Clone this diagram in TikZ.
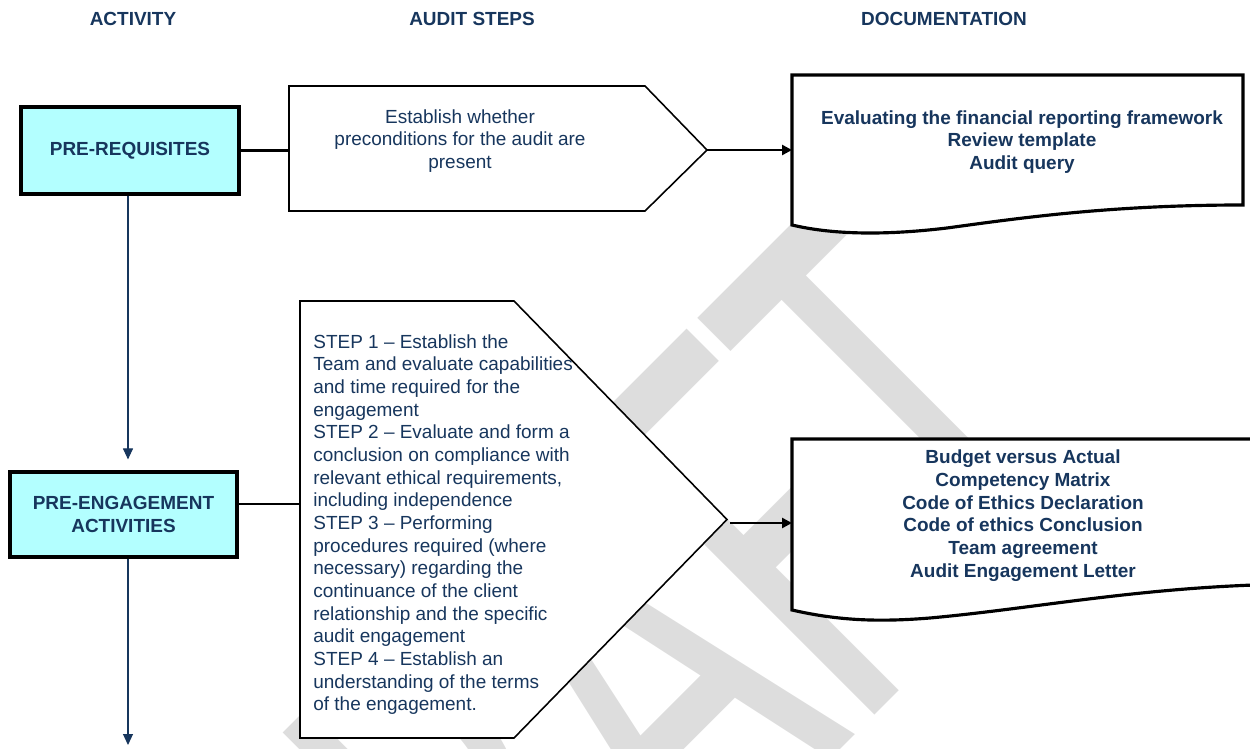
\documentclass[tikz,border=0pt]{standalone}
\usepackage{fontspec}
\setmainfont{Liberation Sans}
\newfontfamily\wmfont{Carlito}
\usetikzlibrary{arrows.meta}

\definecolor{navy}{RGB}{23,54,93}
\definecolor{cyanbox}{RGB}{179,255,255}
\definecolor{wmgray}{RGB}{221,221,221}

\tikzset{
  head/.style={text=navy, font=\bfseries\fontsize{10.8}{12.9}\selectfont},
  activity/.style={draw=black, line width=1.8pt, fill=cyanbox, text=navy, align=center,
    font=\bfseries\fontsize{10.8}{12.9}\selectfont},
  stepline/.style={draw=black, line width=0.9pt, fill=white},
  steptext/.style={text=navy, inner sep=0pt, font=\fontsize{10.8}{12.9}\selectfont},
  docline/.style={draw=black, line width=1.8pt, fill=white},
  doctext/.style={text=navy, inner sep=0pt, align=center,
    font=\bfseries\fontsize{10.8}{12.9}\selectfont},
  link/.style={draw=black, line width=1.7pt},
  feed/.style={draw=black, line width=1.4pt, -{Triangle[length=2mm,width=2mm]}},
  flow/.style={draw=navy, line width=0.6pt, -{Triangle[length=2.2mm,width=2mm]}}
}

\begin{document}
\begin{tikzpicture}[x=0.02cm, y=-0.02cm]
\useasboundingbox (0,0) rectangle (1250,749);
\clip (0,0) rectangle (1250,749);

% Watermark
\node[rotate=45, anchor=base east, inner sep=0pt, text=wmgray] (wm) at (1115,475)
  {\scalebox{0.61}[1]{\wmfont\fontsize{360}{360}\selectfont DRAFT}};

% Column titles
\node[head] (hact) at (133,19) {ACTIVITY};
\node[head] (hstep) at (472,19) {AUDIT STEPS};
\node[head] (hdoc) at (944,19) {DOCUMENTATION};

% Activities
\node[activity, minimum width=4.36cm, minimum height=1.74cm] (pre) at (130,150.5) {PRE-REQUISITES};
\node[activity, minimum width=4.54cm, minimum height=1.7cm] (eng) at (123.5,514.5) {PRE-ENGAGEMENT\\ACTIVITIES};

% Audit steps
\draw[stepline] (289,86) coordinate (s1nw) -- (645,86) -- (707,150) coordinate (s1tip)
  -- (645,211) -- (289,211) -- cycle;
\node[steptext, align=center] (s1) at (460,141)
  {Establish whether\\preconditions for the audit are\\present};

\draw[stepline] (300,301) coordinate (s2nw) -- (514,301) -- (727,519.5) coordinate (s2tip)
  -- (514,738) -- (300,738) -- cycle;
\node[steptext, align=left, anchor=west] (s2) at (313,524.5)
  {STEP 1 – Establish the\\
   Team and evaluate capabilities\\
   and time required for the\\
   engagement\\
   STEP 2 – Evaluate and form a\\
   conclusion on compliance with\\
   relevant ethical requirements,\\
   including independence\\
   STEP 3 – Performing\\
   procedures required (where\\
   necessary) regarding the\\
   continuance of the client\\
   relationship and the specific\\
   audit engagement\\
   STEP 4 – Establish an\\
   understanding of the terms\\
   of the engagement.};

% Documentation
\draw[docline] (792,75) coordinate (d1nw) -- (1243,75) -- (1243,205)
  .. controls (1110,205) and (1020,218) .. (947,228)
  .. controls (880,236) and (830,234) .. (792,225) -- cycle;
\node[doctext] (d1) at (1022,142)
  {Evaluating the financial reporting framework\\Review template\\Audit query};

\draw[docline] (792,439) coordinate (d2nw) -- (1300,439) -- (1300,584)
  .. controls (1150,585) and (1040,608) .. (930,618)
  .. controls (880,622) and (840,621) .. (792,610) -- cycle;
\node[doctext] (d2) at (1023,515.5)
  {Budget versus Actual\\Competency Matrix\\Code of Ethics Declaration\\
   Code of ethics Conclusion\\Team agreement\\Audit Engagement Letter};

% Connectors
\coordinate (spine) at (128,0);
\coordinate (next) at (128,745);
\draw[flow, shorten >=0.22cm] (pre.south -| spine) -- (eng.north -| spine);
\draw[flow] (eng.south -| spine) -- (next);
\draw[link] (pre.east) -- (pre.east -| s1nw);
\draw[feed] (s1tip) -- (s1tip -| d1nw);
\coordinate (s2in) at (300,504);
\coordinate (s2out) at (730,523);
\draw[link] (eng.east |- s2in) -- (s2in);
\draw[feed] (s2out) -- (s2out -| d2nw);

\end{tikzpicture}
\end{document}
